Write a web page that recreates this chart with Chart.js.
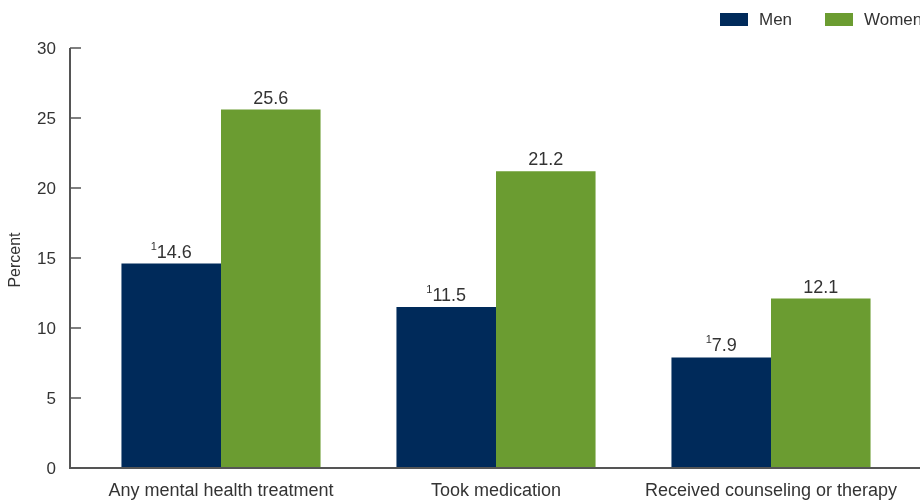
<!DOCTYPE html>
<html>
<head>
<meta charset="utf-8">
<script src="https://cdn.jsdelivr.net/npm/chart.js@4/dist/chart.umd.min.js"></script>
<style>
  html, body { margin: 0; padding: 0; background: #fff; }
  #wrap { width: 920px; height: 502px; position: relative; }
</style>
</head>
<body>
<div id="wrap"><canvas id="chart"></canvas></div>
<script>
// chart data
const categories = ['Any mental health treatment', 'Took medication', 'Received counseling or therapy'];
const men = [14.6, 11.5, 7.9];
const women = [25.6, 21.2, 12.1];
const yTicks = [0, 5, 10, 15, 20, 25, 30];
const seriesNames = ['Men', 'Women'];
const colors = ['#002a5a', '#6b9c31'];
const font = '"Liberation Sans", Arial, sans-serif';

// axes, tick labels, value labels and legend drawn by hand
const decorPlugin = {
  id: 'decor',
  afterDatasetsDraw(c){
    const ctx = c.ctx;
    const y = c.scales.y;
    const x = c.scales.x;
    const axisX = 70;
    const y0 = y.getPixelForValue(0);
    ctx.save();
    // axis lines
    ctx.strokeStyle = '#555';
    ctx.lineWidth = 2;
    ctx.beginPath();
    ctx.moveTo(axisX, y.getPixelForValue(30));
    ctx.lineTo(axisX, y0);
    ctx.lineTo(c.width, y0);
    ctx.stroke();
    // y ticks
    ctx.fillStyle = '#333';
    ctx.font = '17px ' + font;
    ctx.textAlign = 'right';
    ctx.textBaseline = 'middle';
    ctx.lineWidth = 1.5;
    yTicks.forEach(v => {
      const py = y.getPixelForValue(v);
      ctx.beginPath();
      ctx.moveTo(axisX, py);
      ctx.lineTo(axisX + 11, py);
      ctx.stroke();
      ctx.fillText(String(v), 56, py + 1);
    });
    // y title
    ctx.save();
    ctx.translate(16, (y.top + y0) / 2 + 2);
    ctx.rotate(-Math.PI / 2);
    ctx.textAlign = 'center';
    ctx.font = '16px ' + font;
    ctx.fillText('Percent', 0, 0);
    ctx.restore();
    // x labels
    ctx.textAlign = 'center';
    ctx.textBaseline = 'middle';
    ctx.font = '18px ' + font;
    categories.forEach((cat, i) => {
      ctx.fillText(cat, x.getPixelForValue(i), 491);
    });
    // value labels
    c.data.datasets.forEach((ds, di) => {
      c.getDatasetMeta(di).data.forEach((bar, i) => {
        const txt = ds.data[i].toFixed(1);
        ctx.font = '18px ' + font;
        ctx.textBaseline = 'alphabetic';
        if (di === 0) {
          const w = ctx.measureText(txt).width;
          ctx.font = '11px ' + font;
          const sw = ctx.measureText('1').width;
          const left = bar.x - (w + sw) / 2;
          ctx.textAlign = 'left';
          ctx.fillText('1', left, bar.y - 14);
          ctx.font = '18px ' + font;
          ctx.fillText(txt, left + sw, bar.y - 6);
        } else {
          ctx.textAlign = 'center';
          ctx.fillText(txt, bar.x, bar.y - 6);
        }
      });
    });
    // legend
    ctx.textAlign = 'left';
    ctx.textBaseline = 'middle';
    ctx.font = '17px ' + font;
    const legX = [720, 825];
    seriesNames.forEach((n, i) => {
      ctx.fillStyle = colors[i];
      ctx.fillRect(legX[i], 13, 28, 13);
      ctx.fillStyle = '#333';
      ctx.fillText(n, legX[i] + 39, 20);
    });
    ctx.restore();
  }
};

new Chart(document.getElementById('chart'), {
  type: 'bar',
  data: {
    labels: categories,
    datasets: [
      { label: seriesNames[0], data: men, backgroundColor: colors[0] },
      { label: seriesNames[1], data: women, backgroundColor: colors[1] }
    ]
  },
  options: {
    responsive: true,
    maintainAspectRatio: false,
    animation: false,
    layout: { padding: { left: 83.5, right: 11.5, top: 48, bottom: 34 } },
    categoryPercentage: 0.724,
    barPercentage: 1.0,
    plugins: { legend: { display: false }, tooltip: { enabled: false } },
    scales: {
      x: { display: false },
      y: { display: false, min: 0, max: 30 }
    }
  },
  plugins: [decorPlugin]
});
</script>
</body>
</html>
